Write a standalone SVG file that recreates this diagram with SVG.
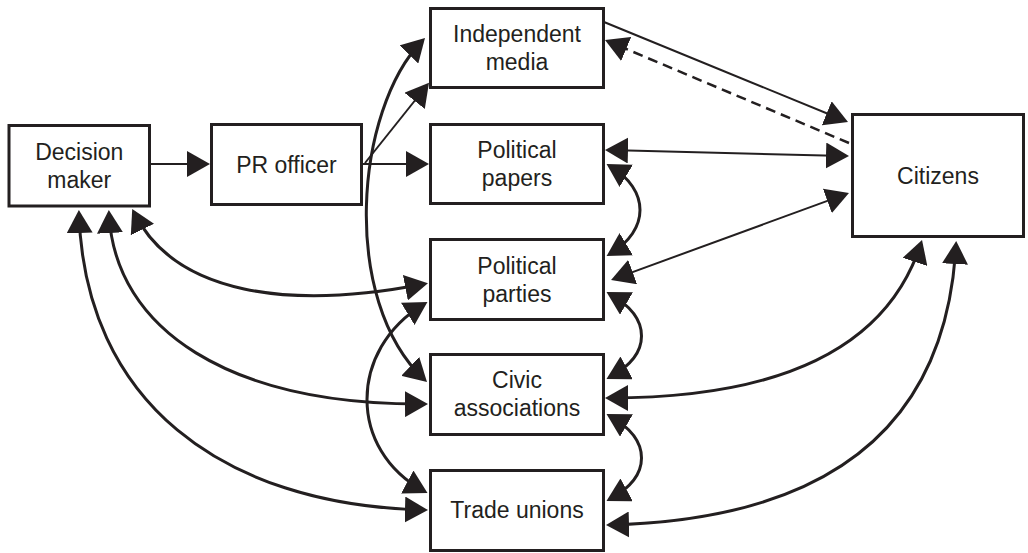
<svg xmlns="http://www.w3.org/2000/svg" width="1028" height="553" viewBox="0 0 1028 553">
<style>
  rect.box { fill: #ffffff; stroke: #231f20; stroke-width: 3; }
  text { font-family: "Liberation Sans", Arial, sans-serif; font-size: 23px; fill: #231f20; text-anchor: middle; }
  .thin { fill: none; stroke: #231f20; stroke-width: 2; }
  .arc { fill: none; stroke: #231f20; stroke-width: 3; }
  .dash { fill: none; stroke: #231f20; stroke-width: 2.5; stroke-dasharray: 10 6; }
</style>
<defs>
  <marker id="ah" viewBox="0 0 23 26" markerWidth="23" markerHeight="26" refX="19" refY="13" orient="auto-start-reverse" markerUnits="userSpaceOnUse">
    <path d="M0,0 L23,13 L0,26 z" fill="#231f20"/>
  </marker>
</defs>
<rect width="1028" height="553" fill="#ffffff"/>

<g id="connectors">
  <!-- straight -->
  <path class="thin" d="M151,164 L206,164" marker-end="url(#ah)"/>
  <path class="thin" d="M363,164 L425,164" marker-end="url(#ah)"/>
  <path class="thin" d="M365,163 L426.5,86" marker-end="url(#ah)"/>
  <path class="thin" d="M604,22 L844.3,120.5" marker-end="url(#ah)"/>
  <path class="dash" d="M849,143 L608.7,41.6" marker-end="url(#ah)"/>
  <path class="thin" d="M609,150 L845,156" marker-start="url(#ah)" marker-end="url(#ah)"/>
  <path class="thin" d="M614.8,278.6 L845.2,194.4" marker-start="url(#ah)" marker-end="url(#ah)"/>
  <!-- left arcs -->
  <path class="arc" d="M422.2,40.9 C355,110 340,300 424.1,379.3" marker-start="url(#ah)" marker-end="url(#ah)"/>
  <path class="arc" d="M134,212.5 C175,295 290,310 424,284" marker-start="url(#ah)" marker-end="url(#ah)"/>
  <path class="arc" d="M109,214 C115,330 230,405 424,404" marker-start="url(#ah)" marker-end="url(#ah)"/>
  <path class="arc" d="M79,214 C85,400 220,505 424,510" marker-start="url(#ah)" marker-end="url(#ah)"/>
  <path class="arc" d="M424,304 C348,350 348,450 424,491" marker-start="url(#ah)" marker-end="url(#ah)"/>
  <!-- right arcs -->
  <path class="arc" d="M610,166 C650,190 650,230 610,254" marker-start="url(#ah)" marker-end="url(#ah)"/>
  <path class="arc" d="M610,294 C652,318 652,354 610,377" marker-start="url(#ah)" marker-end="url(#ah)"/>
  <path class="arc" d="M610,416 C652,440 652,476 610,499" marker-start="url(#ah)" marker-end="url(#ah)"/>
  <path class="arc" d="M609,398 C740,398 880,370 920.8,243.8" marker-start="url(#ah)" marker-end="url(#ah)"/>
  <path class="arc" d="M610,525 C800,520 945,450 956,245" marker-start="url(#ah)" marker-end="url(#ah)"/>
</g>

<g id="decision-maker">
  <rect class="box" x="9" y="125.5" width="140.5" height="80.5"/>
  <text x="79.3" y="160">Decision</text>
  <text x="79.3" y="187.5">maker</text>
</g>
<g id="pr-officer">
  <rect class="box" x="211.5" y="124.5" width="150" height="80"/>
  <text x="286.5" y="172.5">PR officer</text>
</g>
<g id="independent-media">
  <rect class="box" x="430.5" y="8.5" width="173" height="79"/>
  <text x="517" y="42">Independent</text>
  <text x="517" y="70">media</text>
</g>
<g id="political-papers">
  <rect class="box" x="430.5" y="124.5" width="173" height="79"/>
  <text x="517" y="158">Political</text>
  <text x="517" y="186">papers</text>
</g>
<g id="political-parties">
  <rect class="box" x="430.5" y="239.5" width="173" height="80"/>
  <text x="517" y="273.5">Political</text>
  <text x="517" y="301.5">parties</text>
</g>
<g id="civic-associations">
  <rect class="box" x="430.5" y="354.5" width="173" height="80"/>
  <text x="517" y="388">Civic</text>
  <text x="517" y="416">associations</text>
</g>
<g id="trade-unions">
  <rect class="box" x="430.5" y="470.5" width="173" height="80"/>
  <text x="517" y="518">Trade unions</text>
</g>
<g id="citizens">
  <rect class="box" x="852.5" y="114.5" width="171" height="122"/>
  <text x="938" y="184">Citizens</text>
</g>
</svg>
